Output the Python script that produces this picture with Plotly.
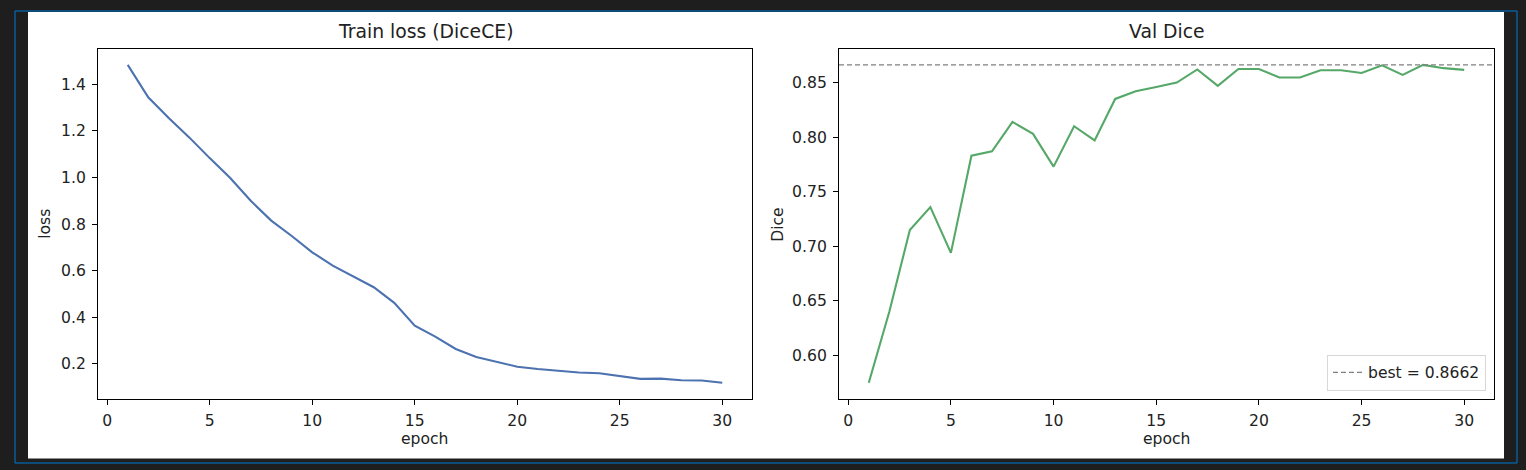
import plotly.graph_objects as go

epochs = list(range(1, 31))
train_loss = [1.483, 1.344, 1.255, 1.172, 1.083, 0.998, 0.900, 0.815, 0.749, 0.679,
              0.622, 0.575, 0.529, 0.462, 0.364, 0.317, 0.264, 0.230, 0.209, 0.188,
              0.178, 0.171, 0.163, 0.160, 0.147, 0.136, 0.137, 0.130, 0.129, 0.119]
val_dice = [0.575, 0.640, 0.715, 0.736, 0.694, 0.783, 0.787, 0.814, 0.803, 0.773,
            0.810, 0.797, 0.835, 0.842, 0.846, 0.850, 0.862, 0.847, 0.8625, 0.8625,
            0.8546, 0.8546, 0.8613, 0.8613, 0.8588, 0.8658, 0.857, 0.8662, 0.8632, 0.8616]
best = max(val_dice)
x_ticks = [0, 5, 10, 15, 20, 25, 30]
loss_ticks = [0.2, 0.4, 0.6, 0.8, 1.0, 1.2, 1.4]
dice_ticks = [0.60, 0.65, 0.70, 0.75, 0.80, 0.85]

W, H = 1526, 470
FONT = "DejaVu Sans"
TICK = 15.6
TITLE = 18.8
TXT = "#222222"


def pad(lo, hi, m=0.05):
    s = hi - lo
    return [lo - m * s, hi + m * s]


def px(x):
    return x / W


def py(y):
    return 1 - y / H


fig = go.Figure()
fig.add_trace(go.Scatter(x=epochs, y=train_loss, mode="lines",
                         line=dict(color="#4c72b0", width=2.1),
                         xaxis="x", yaxis="y", showlegend=False))
fig.add_trace(go.Scatter(x=epochs, y=val_dice, mode="lines",
                         line=dict(color="#55a868", width=2.1),
                         xaxis="x2", yaxis="y2", showlegend=False))
xr = pad(min(epochs), max(epochs))
fig.add_trace(go.Scatter(x=xr, y=[best, best], mode="lines",
                         line=dict(color="#808080", width=1.2, dash="5px,3px"),
                         xaxis="x2", yaxis="y2", showlegend=True,
                         name=f"best = {best:.4f}"))

axis_common = dict(showline=True, mirror=True, linecolor="black", linewidth=1.1,
                   ticks="outside", ticklen=5, tickwidth=1.1, tickcolor="black",
                   showgrid=False, zeroline=False,
                   tickfont=dict(family=FONT, size=TICK, color=TXT))
x_common = dict(axis_common, ticklabelstandoff=3)
y_common = dict(axis_common, ticklabelstandoff=3)

lx0, lx1 = 98, 752
rx0, rx1 = 839, 1494
yt, yb = 49, 398.7

fig.update_layout(
    width=W, height=H,
    margin=dict(l=0, r=0, t=0, b=0),
    paper_bgcolor="#1e1e1e",
    plot_bgcolor="white",
    font=dict(family=FONT, color=TXT),
    xaxis=dict(domain=[px(lx0), px(lx1)], range=xr, tickvals=x_ticks,
               anchor="y", **x_common),
    yaxis=dict(domain=[py(yb), py(yt)], range=pad(min(train_loss), max(train_loss)),
               tickvals=loss_ticks, ticktext=[f"{v:.1f}" for v in loss_ticks],
               anchor="x", **y_common),
    xaxis2=dict(domain=[px(rx0), px(rx1)], range=xr, tickvals=x_ticks,
                anchor="y2", **x_common),
    yaxis2=dict(domain=[py(yb), py(yt)], range=pad(min(val_dice), best),
                tickvals=dice_ticks, ticktext=[f"{v:.2f}" for v in dice_ticks],
                anchor="x2", **y_common),
    legend=dict(x=px(1486), y=py(390.7), xanchor="right", yanchor="bottom",
                bgcolor="rgba(255,255,255,0.8)", bordercolor="#d8d8d8", borderwidth=1,
                font=dict(family=FONT, size=TICK, color=TXT),
                itemwidth=30, tracegroupgap=0),
    shapes=[
        dict(type="rect", xref="paper", yref="paper", x0=px(15), x1=px(1517),
             y0=py(463), y1=py(11), line=dict(color="#0078d4", width=1),
             fillcolor="#1e1e1e", layer="below"),
        dict(type="rect", xref="paper", yref="paper", x0=px(28), x1=px(1504),
             y0=py(458.5), y1=py(12), line=dict(width=0),
             fillcolor="white", layer="below"),
    ],
    annotations=[
        dict(text="Train loss (DiceCE)", x=px((lx0 + lx1) / 2), y=py(32), xref="paper",
             yref="paper", showarrow=False, font=dict(size=TITLE, family=FONT, color=TXT),
             xanchor="center", yanchor="middle"),
        dict(text="Val Dice", x=px((rx0 + rx1) / 2), y=py(32), xref="paper",
             yref="paper", showarrow=False, font=dict(size=TITLE, family=FONT, color=TXT),
             xanchor="center", yanchor="middle"),
        dict(text="epoch", x=px((lx0 + lx1) / 2), y=py(439), xref="paper", yref="paper",
             showarrow=False, font=dict(size=TICK, family=FONT, color=TXT),
             xanchor="center", yanchor="middle"),
        dict(text="epoch", x=px((rx0 + rx1) / 2), y=py(439), xref="paper", yref="paper",
             showarrow=False, font=dict(size=TICK, family=FONT, color=TXT),
             xanchor="center", yanchor="middle"),
        dict(text="loss", x=px(45), y=py((yt + yb) / 2), xref="paper", yref="paper",
             showarrow=False, textangle=-90, font=dict(size=TICK, family=FONT, color=TXT),
             xanchor="center", yanchor="middle"),
        dict(text="Dice", x=px(778), y=py((yt + yb) / 2), xref="paper", yref="paper",
             showarrow=False, textangle=-90, font=dict(size=TICK, family=FONT, color=TXT),
             xanchor="center", yanchor="middle"),
    ],
)

fig.write_html("out.html")
